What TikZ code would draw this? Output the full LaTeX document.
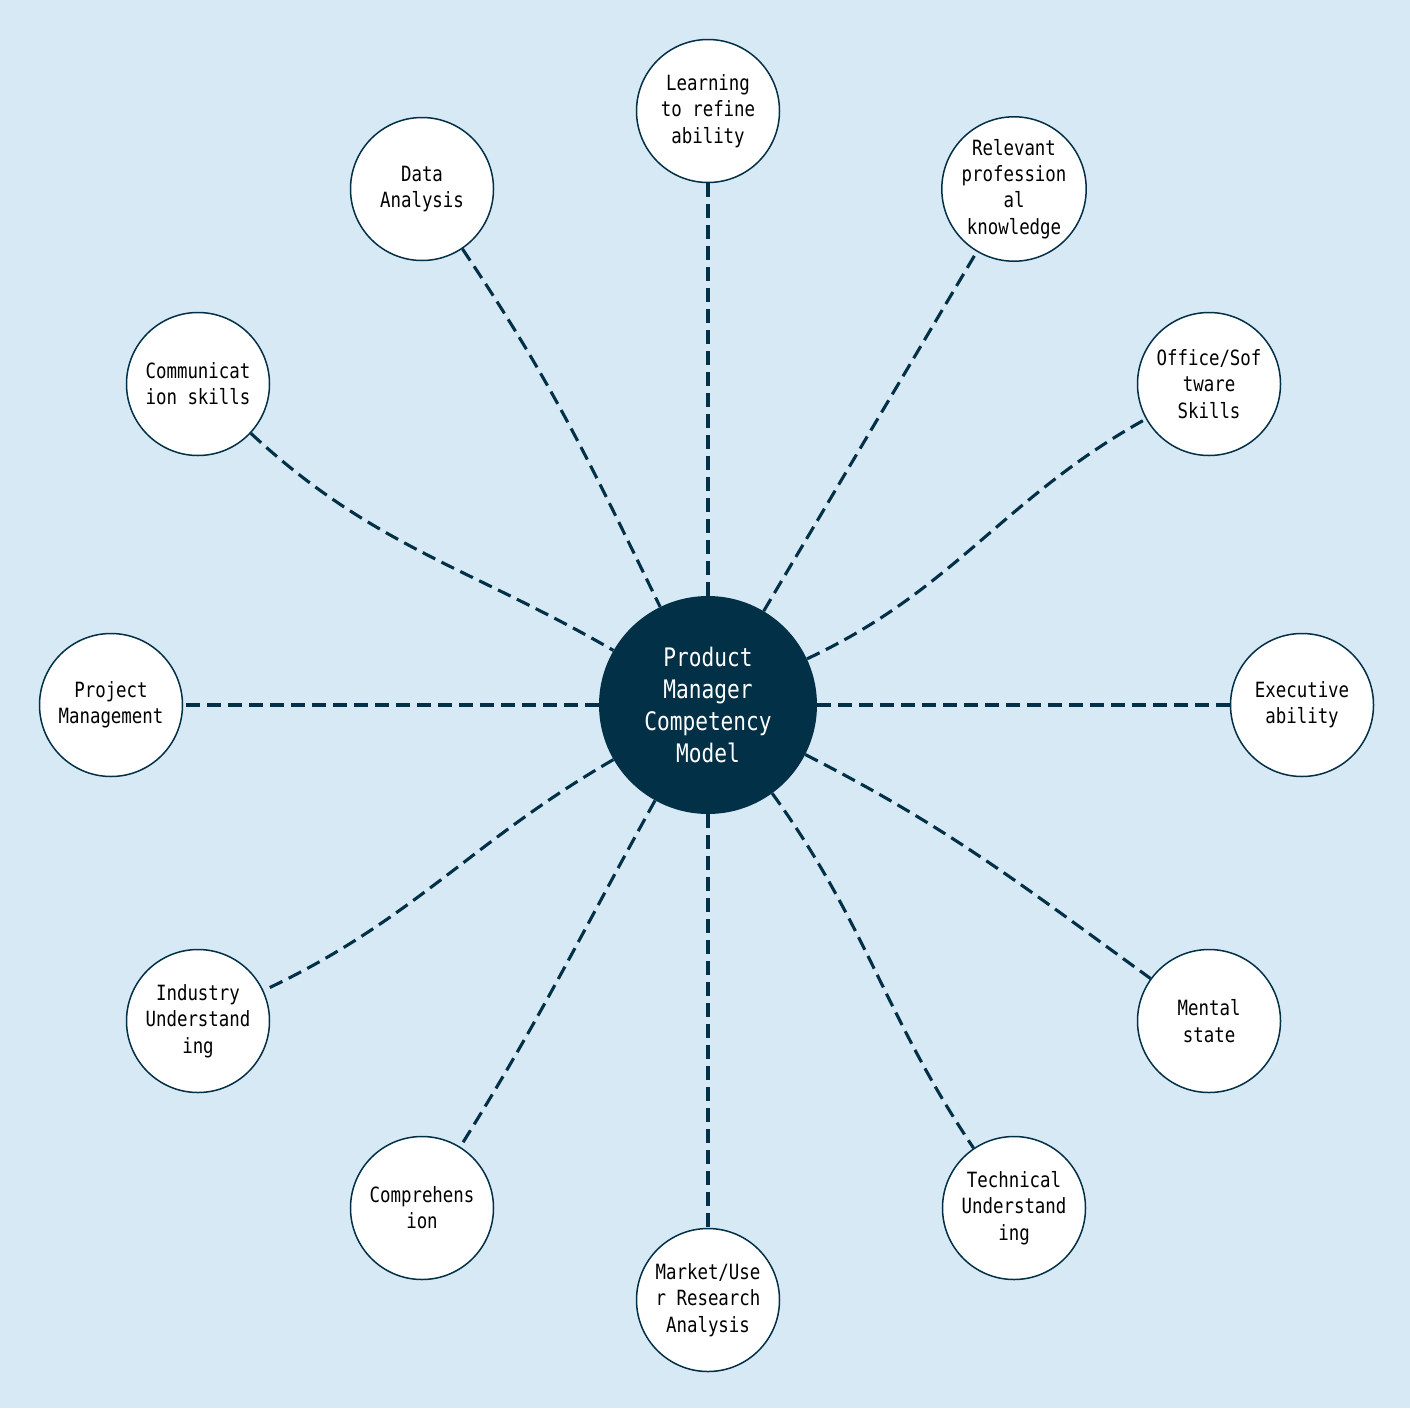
\documentclass[tikz,border=0pt]{standalone}
\usepackage{fontspec}
\newfontfamily\lblfont{DejaVu Sans Mono}[FakeStretch=0.83]
\definecolor{bg}{RGB}{215,233,245}
\definecolor{navy}{HTML}{023047}
\begin{document}
\begin{tikzpicture}[x=1pt,y=1pt,
  leaf/.style={circle,draw=navy,line width=1.5pt,fill=white,minimum size=143pt,inner sep=0pt,align=center,font=\lblfont\fontsize{21}{26.3}\selectfont,text=black},
  hub/.style={circle,fill=navy,minimum size=218pt,inner sep=0pt,align=center,font=\lblfont\fontsize{25.5}{32}\selectfont,text=white},
  link/.style={draw=navy,line width=3.1pt,dash pattern=on 14pt off 7pt}]
\fill[bg] (0,0) rectangle (1410,-1408);
\useasboundingbox (0,0) rectangle (1410,-1408);

\node[hub] (pm) at (708,-705) {Product\\Manager\\Competency\\Model};

\node[leaf] (learn) at (708,-111) {Learning\\to refine\\ability};
\node[leaf] (rel) at (1014,-189) {Relevant\\profession\\al\\knowledge};
\node[leaf] (off) at (1209,-384) {Office/Sof\\tware\\Skills};
\node[leaf] (exe) at (1302,-705) {Executive\\ability};
\node[leaf] (men) at (1209,-1021) {Mental\\state};
\node[leaf] (tech) at (1014,-1208) {Technical\\Understand\\ing};
\node[leaf] (mkt) at (708,-1300) {Market/Use\\r Research\\Analysis};
\node[leaf] (comp) at (422,-1208) {Comprehens\\ion};
\node[leaf] (ind) at (198,-1021) {Industry\\Understand\\ing};
\node[leaf] (proj) at (111,-705) {Project\\Management};
\node[leaf] (comm) at (198,-384) {Communicat\\ion skills};
\node[leaf] (data) at (422,-189) {Data\\Analysis};

\draw[link] (pm) -- (learn);
\draw[link] (pm) -- (rel);
\draw[link] (pm) to[out=25,in=209] (off);
\draw[link] (pm) -- (exe);
\draw[link] (pm) to[out=-27,in=144] (men);
\draw[link] (pm) to[out=-54,in=124] (tech);
\draw[link] (pm) -- (mkt);
\draw[link] (pm) to[out=-119,in=58] (comp);
\draw[link] (pm) to[out=210,in=25] (ind);
\draw[link] (pm) -- (proj);
\draw[link] (comm) to[out=-43,in=150] (pm);
\draw[link] (data) to[out=-56,in=116] (pm);
\end{tikzpicture}
\end{document}
